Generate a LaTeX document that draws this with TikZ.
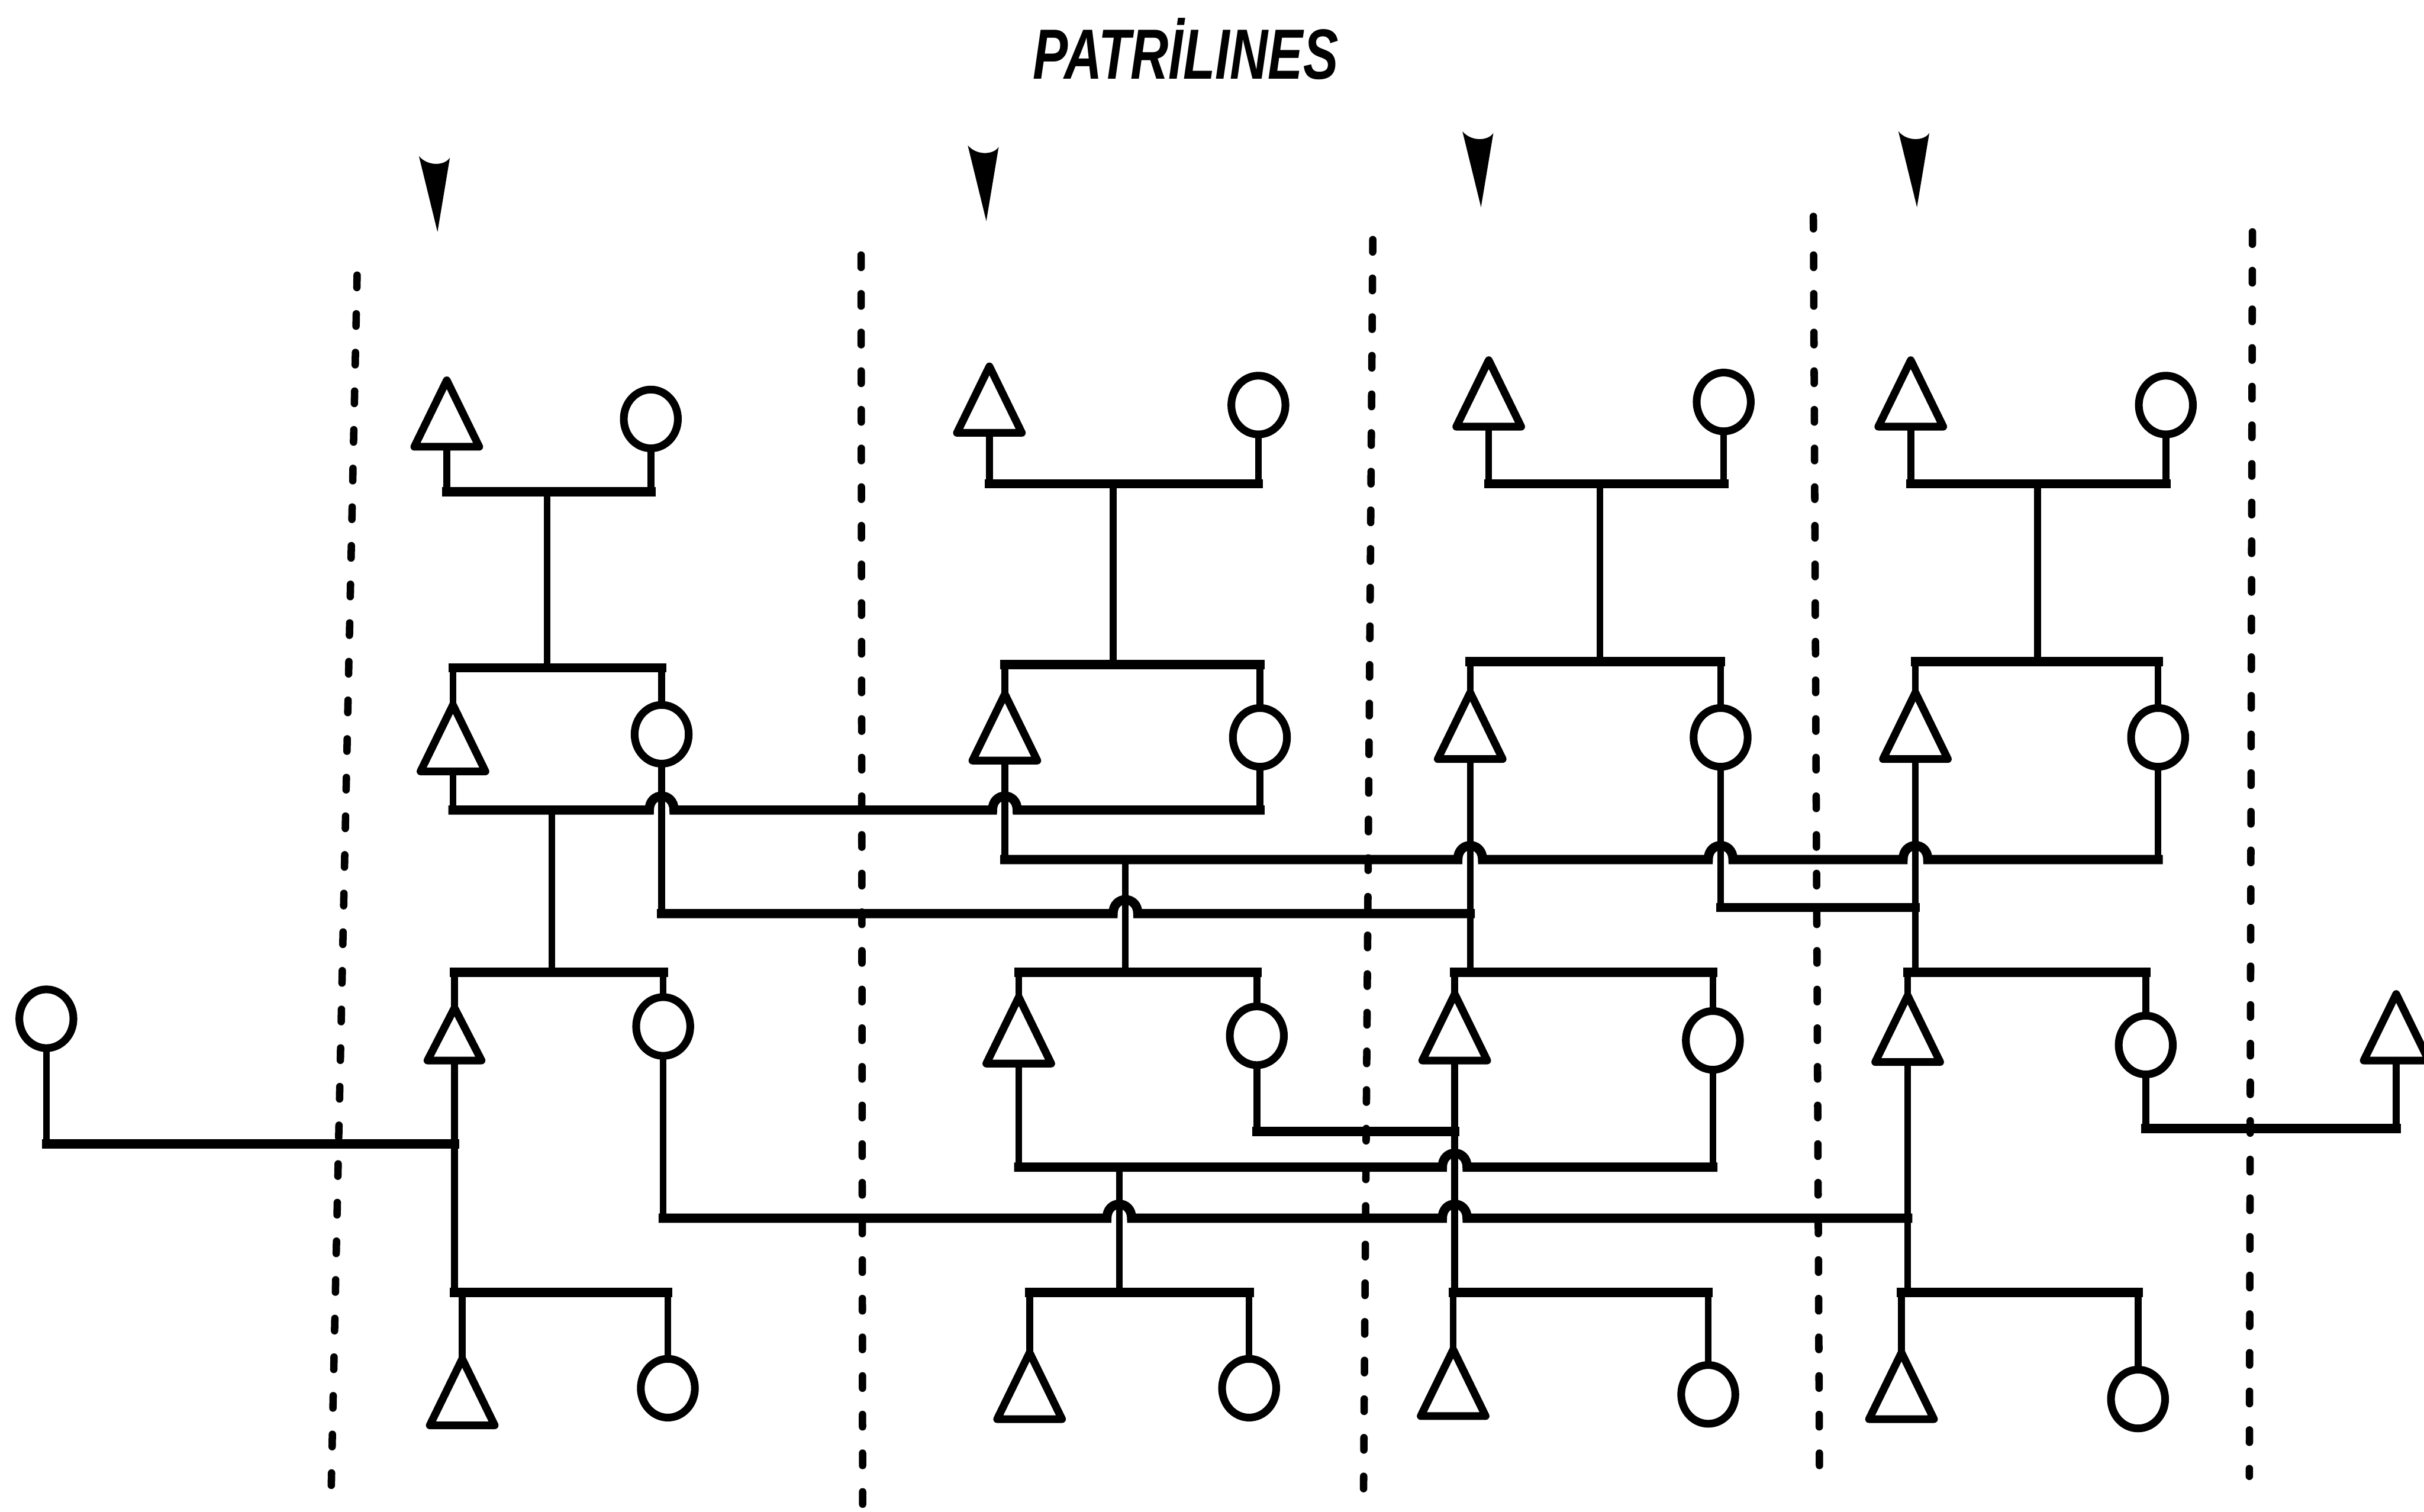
\documentclass[tikz,border=0pt]{standalone}
\usepackage{fontspec}
\usepackage{graphicx}
\usetikzlibrary{shapes.geometric}
\newfontfamily\patrifont{Liberation Sans}

\begin{document}
\begin{tikzpicture}[x=1pt,y=-1pt,
  male/.style={draw, isosceles triangle, isosceles triangle stretches,
    shape border rotate=90, minimum width=42pt, minimum height=43pt,
    inner sep=0pt, outer sep=0pt, line width=5pt, line join=round,
    fill=white, anchor=apex},
  smallmale/.style={male, minimum width=35pt, minimum height=34pt},
  female/.style={draw, ellipse, minimum width=35pt, minimum height=38pt,
    inner sep=0pt, outer sep=0pt, line width=5pt, fill=white},
  vline/.style={line width=4.4pt},
  hline/.style={line width=6pt, line cap=rect},
  divider/.style={line width=4.8pt, dash pattern=on 8pt off 17pt, line cap=round},
  jump/.style args={#1/#2}{insert path={-- ({#1-8},#2)
    .. controls +(0,-12) and +(0,-12) .. ({#1+8},#2)}},
  patriarrow/.pic={\fill (-12,0) -- (0,49) -- (8,1)
    .. controls (5,6) and (-6,7) .. (-12,0) -- cycle;}
]
\fill[white] (0,0) rectangle (1568,978);
\useasboundingbox (0,0) rectangle (1568,978);

% title and patriline markers
\node[font=\patrifont\bfseries\itshape\fontsize{46}{46}\selectfont,
  anchor=base, inner sep=0pt] (title) at (767,51)
  {\scalebox{0.74}[1]{PATRİLINES}};
\pic at (283,101) {patriarrow};
\pic at (638,94) {patriarrow};
\pic at (958,85) {patriarrow};
\pic at (1240,85) {patriarrow};

% boundaries between the patrilines
\draw[divider] (231,178) -- (214,975);
\draw[divider] (557,165) -- (558,975);
\draw[divider] (888,155) -- (882,968);
\draw[divider] (1173,140) -- (1177,963);
\draw[divider] (1457,150) -- (1455,955);

% generation 1
\node[male] (m11) at (289,246) {};
\node[female] (f11) at (421,271) {};
\node[male] (m21) at (640,237) {};
\node[female] (f21) at (814,262) {};
\node[male] (m31) at (963,233) {};
\node[female] (f31) at (1115,260) {};
\node[male] (m41) at (1236,233) {};
\node[female] (f41) at (1401,262) {};
% generation 2
\node[male] (m12) at (293,456) {};
\node[female] (f12) at (428,475) {};
\node[male] (m22) at (650,449) {};
\node[female] (f22) at (815,477) {};
\node[male] (m32) at (951,448) {};
\node[female] (f32) at (1113,477) {};
\node[male] (m42) at (1239,448) {};
\node[female] (f42) at (1396,477) {};
% generation 3
\node[female] (fL) at (30,659) {};
\node[smallmale] (m13) at (294,652) {};
\node[female] (f13) at (429,664) {};
\node[male] (m23) at (659,645) {};
\node[female] (f23) at (813,670) {};
\node[male] (m33) at (941,643) {};
\node[female] (f33) at (1108,673) {};
\node[male] (m43) at (1234,644) {};
\node[female] (f43) at (1388,676) {};
\node[male] (mR) at (1550,643) {};
% generation 4
\node[male] (m14) at (299,879) {};
\node[female] (f14) at (432,898) {};
\node[male] (m24) at (666,875) {};
\node[female] (f24) at (808,898) {};
\node[male] (m34) at (940,873) {};
\node[female] (f34) at (1105,902) {};
\node[male] (m44) at (1230,875) {};
\node[female] (f44) at (1383,905) {};

% ---- patriline 1
\draw[vline] (m11) -- (m11 |- 0,318);
\draw[vline] (f11) -- (f11 |- 0,318);
\draw[hline] (m11 |- 0,318) -- (f11 |- 0,318);
\draw[vline] (354,318) -- (354,432);
\draw[hline] (m12 |- 0,432) -- (f12 |- 0,432);
\draw[vline] (m12 |- 0,432) -- (m12);
\draw[vline] (f12 |- 0,432) -- (f12);
% m12 marries f22
\draw[vline] (m12) -- (m12 |- 0,524);
\draw[vline] (f22) -- (f22 |- 0,524);
\draw[hline] (m12 |- 0,524) [jump=428/524] [jump=650/524] -- (f22 |- 0,524);
\draw[vline] (357,524) -- (357,629);
% f12 marries m32
\draw[vline] (f12) -- (f12 |- 0,591);
\draw[hline] (f12 |- 0,591) [jump=728/591] -- (m32 |- 0,591);
% generation 3
\draw[hline] (m13 |- 0,629) -- (f13 |- 0,629);
\draw[vline] (m13 |- 0,629) -- (m13);
\draw[vline] (f13 |- 0,629) -- (f13);
% m13 marries fL
\draw[vline] (fL) -- (fL |- 0,740);
\draw[hline] (fL |- 0,740) -- (m13 |- 0,740);
\draw[vline] (m13) -- (m13 |- 0,836);
\draw[hline] (m13 |- 0,836) -- (f14 |- 0,836);
\draw[vline] (m14 |- 0,836) -- (m14);
\draw[vline] (f14 |- 0,836) -- (f14);
% f13 marries m43
\draw[vline] (f13) -- (f13 |- 0,788);
\draw[hline] (f13 |- 0,788) [jump=724/788] [jump=941/788] -- (m43 |- 0,788);

% ---- patriline 2
\draw[vline] (m21) -- (m21 |- 0,313);
\draw[vline] (f21) -- (f21 |- 0,313);
\draw[hline] (m21 |- 0,313) -- (f21 |- 0,313);
\draw[vline] (720,313) -- (720,430);
\draw[hline] (m22 |- 0,430) -- (f22 |- 0,430);
\draw[vline] (m22 |- 0,430) -- (m22);
\draw[vline] (f22 |- 0,430) -- (f22);
% m22 marries f42
\draw[vline] (m22) -- (m22 |- 0,556);
\draw[vline] (f42) -- (f42 |- 0,556);
\draw[hline] (m22 |- 0,556) [jump=951/556] [jump=1113/556] [jump=1239/556] -- (f42 |- 0,556);
\draw[vline] (728,556) -- (728,629);
\draw[hline] (m23 |- 0,629) -- (f23 |- 0,629);
\draw[vline] (m23 |- 0,629) -- (m23);
\draw[vline] (f23 |- 0,629) -- (f23);
% m23 marries f33
\draw[vline] (m23) -- (m23 |- 0,755);
\draw[vline] (f33) -- (f33 |- 0,755);
\draw[hline] (m23 |- 0,755) [jump=941/755] -- (f33 |- 0,755);
\draw[vline] (724,755) -- (724,836);
% f23 marries m33
\draw[vline] (f23) -- (f23 |- 0,732);
\draw[hline] (f23 |- 0,732) -- (m33 |- 0,732);
% generation 4
\draw[hline] (m24 |- 0,836) -- (f24 |- 0,836);
\draw[vline] (m24 |- 0,836) -- (m24);
\draw[vline] (f24 |- 0,836) -- (f24);

% ---- patriline 3
\draw[vline] (m31) -- (m31 |- 0,313);
\draw[vline] (f31) -- (f31 |- 0,313);
\draw[hline] (m31 |- 0,313) -- (f31 |- 0,313);
\draw[vline] (1035,313) -- (1035,428);
\draw[hline] (m32 |- 0,428) -- (f32 |- 0,428);
\draw[vline] (m32 |- 0,428) -- (m32);
\draw[vline] (f32 |- 0,428) -- (f32);
\draw[vline] (m32) -- (m32 |- 0,629);
% f32 marries m42
\draw[vline] (f32) -- (f32 |- 0,587);
\draw[hline] (f32 |- 0,587) -- (m42 |- 0,587);
% generation 3
\draw[hline] (m33 |- 0,629) -- (f33 |- 0,629);
\draw[vline] (m33 |- 0,629) -- (m33);
\draw[vline] (f33 |- 0,629) -- (f33);
\draw[vline] (m33) -- (m33 |- 0,836);
% generation 4
\draw[hline] (m34 |- 0,836) -- (f34 |- 0,836);
\draw[vline] (m34 |- 0,836) -- (m34);
\draw[vline] (f34 |- 0,836) -- (f34);

% ---- patriline 4
\draw[vline] (m41) -- (m41 |- 0,313);
\draw[vline] (f41) -- (f41 |- 0,313);
\draw[hline] (m41 |- 0,313) -- (f41 |- 0,313);
\draw[vline] (1318,313) -- (1318,428);
\draw[hline] (m42 |- 0,428) -- (f42 |- 0,428);
\draw[vline] (m42 |- 0,428) -- (m42);
\draw[vline] (f42 |- 0,428) -- (f42);
\draw[vline] (m42) -- (m42 |- 0,629);
% generation 3
\draw[hline] (m43 |- 0,629) -- (f43 |- 0,629);
\draw[vline] (m43 |- 0,629) -- (m43);
\draw[vline] (f43 |- 0,629) -- (f43);
\draw[vline] (m43) -- (m43 |- 0,836);
% f43 marries mR
\draw[vline] (f43) -- (f43 |- 0,730);
\draw[vline] (mR) -- (mR |- 0,730);
\draw[hline] (f43 |- 0,730) -- (mR |- 0,730);
% generation 4
\draw[hline] (m44 |- 0,836) -- (f44 |- 0,836);
\draw[vline] (m44 |- 0,836) -- (m44);
\draw[vline] (f44 |- 0,836) -- (f44);
\end{tikzpicture}
\end{document}
